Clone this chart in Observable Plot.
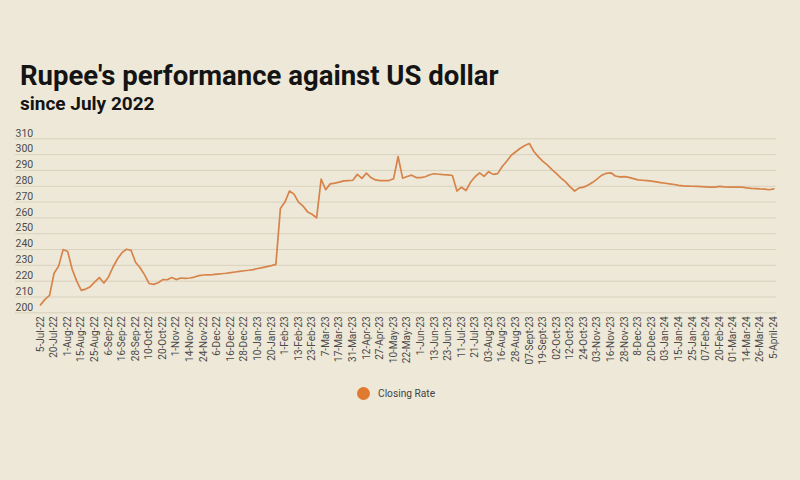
<!DOCTYPE html>
<html>
<head>
<meta charset="utf-8">
<script src="https://cdn.jsdelivr.net/npm/d3@7"></script>
<script src="https://cdn.jsdelivr.net/npm/@observablehq/plot@0.6"></script>
<style>
  html, body { margin: 0; padding: 0; background: #eee8d8; }
  #wrap { position: relative; width: 800px; height: 480px; background: #eee8d8; font-family: Roboto, "Noto Sans", sans-serif; overflow: hidden; }
  #title { position: absolute; left: 20px; top: 62px; font-size: 27.5px; line-height: 27.5px; font-weight: 700; color: #141414; white-space: nowrap; }
  #subtitle { position: absolute; left: 20px; top: 94px; font-size: 19px; line-height: 19px; font-weight: 700; color: #141414; white-space: nowrap; }
  #chart { position: absolute; left: 0; top: 120px; }
  #legend { position: absolute; left: 357px; top: 387px; display: flex; align-items: center; font-size: 10.2px; color: #444; }
  #legend .dot { width: 13px; height: 13px; border-radius: 50%; background: #df7a30; margin-right: 8px; }
</style>
</head>
<body>
<div id="wrap">
  <div id="title">Rupee's performance against US dollar</div>
  <div id="subtitle">since July 2022</div>
  <div id="chart"></div>
  <div id="legend"><span class="dot"></span><span>Closing Rate</span></div>
</div>
<script>
// Category labels along the x axis (one per tick)
const dateLabels = [
  "5-Jul-22","20-Jul-22","1-Aug-22","15-Aug-22","25-Aug-22","6-Sep-22","16-Sep-22","28-Sep-22",
  "10-Oct-22","20-Oct-22","1-Nov-22","14-Nov-22","24-Nov-22","6-Dec-22","16-Dec-22","28-Dec-22",
  "10-Jan-23","20-Jan-23","1-Feb-23","13-Feb-23","23-Feb-23","7-Mar-23","17-Mar-23","31-Mar-23",
  "12-Apr-23","27-Apr-23","10-May-23","22-May-23","1-Jun-23","13-Jun-23","23-Jun-23","11-Jul-23",
  "21-Jul-23","03-Aug-23","16-Aug-23","28-Aug-23","07-Sept-23","19-Sept-23","02-Oct-23","12-Oct-23",
  "24-Oct-23","03-Nov-23","16-Nov-23","28-Nov-23","8-Dec-23","20-Dec-23","03-Jan-24","15-Jan-24",
  "25-Jan-24","07-Feb-24","20-Feb-24","01-Mar-24","14-Mar-24","26-Mar-24","5-April-24"
];

// Closing rate (PKR per USD): 3 readings per label interval
const samplesPerLabel = 3;
const closingRate = [
  205.0,208.5,211.0, 225.0,229.5,240.0, 238.8,227.5,220.0, 214.2,215.0,216.5,
  219.5,222.3,218.8, 222.5,228.8,234.0, 238.0,240.2,239.5, 232.0,228.5,224.0,
  218.5,218.0,219.0, 221.0,220.9,222.3, 221.0,222.0,221.8, 222.0,222.6,223.5,
  223.9,224.0,224.1, 224.4,224.7,225.0, 225.4,225.8,226.2, 226.6,226.9,227.3,
  228.0,228.6,229.2, 229.8,230.6,266.0, 270.0,277.0,275.0, 270.0,267.5,263.8,
  262.3,260.0,284.5, 277.8,281.5,282.0, 282.6,283.4,283.6, 283.8,287.5,285.0,
  288.3,285.5,284.0, 283.6,283.6,283.6, 284.7,298.8,285.1, 286.2,287.0,285.5,
  285.5,286.0,287.3, 287.9,287.6,287.3, 287.2,286.8,277.0, 279.4,277.3,282.5,
  286.0,288.5,286.2, 289.2,287.5,288.0, 292.5,295.8,299.6, 301.8,304.0,305.8,
  307.0,302.0,298.6, 295.7,293.3,290.5, 288.0,285.2,282.8, 279.6,277.0,279.0,
  279.4,280.8,282.5, 284.7,287.0,288.2, 288.5,286.5,285.9, 286.1,285.6,284.8,
  284.0,283.8,283.5, 283.2,282.8,282.3, 281.9,281.5,281.1, 280.6,280.2,280.1,
  280.0,279.9,279.8, 279.6,279.4,279.5, 279.9,279.6,279.4, 279.4,279.4,279.4,
  279.0,278.7,278.5, 278.3,278.2,277.8, 278.3
];

const yTicks = [200,210,220,230,240,250,260,270,280,290,300,310];

const series = closingRate.map((v, i) => ({pos: i / samplesPerLabel, rate: v}));

const chart = Plot.plot({
  width: 800,
  height: 260,
  marginTop: 18.3,
  marginBottom: 67.7,
  marginLeft: 15,
  marginRight: 24,
  style: {background: "transparent", fontFamily: "Roboto, sans-serif", overflow: "visible"},
  x: {domain: [0, dateLabels.length - 1], insetLeft: 25, insetRight: 2.7},
  y: {domain: [200, 310]},
  marks: [
    Plot.ruleY(yTicks, {stroke: "#d8d1bd", strokeWidth: 1}),
    Plot.axisY({
      ticks: yTicks, tickSize: 0, tickPadding: 0, textAnchor: "start",
      dy: -5.6, fontSize: 10.5, fill: "#4a4a4a", label: null
    }),
    Plot.axisX({
      ticks: d3.range(dateLabels.length), tickFormat: i => dateLabels[i],
      tickRotate: -90, tickSize: 0, tickPadding: 3.5, fontSize: 10, fill: "#4a4a4a", label: null
    }),
    Plot.line(series, {x: "pos", y: "rate", stroke: "#d6844a", strokeWidth: 1.7, curve: "linear"})
  ]
});
document.getElementById("chart").appendChild(chart);
</script>
</body>
</html>
